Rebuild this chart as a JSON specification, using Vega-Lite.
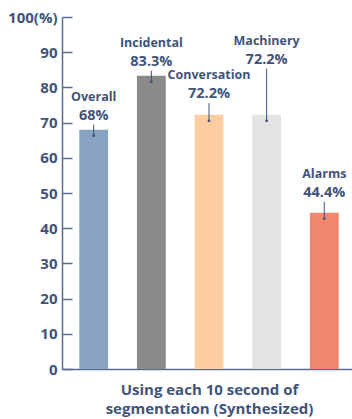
{
  "$schema": "https://vega.github.io/schema/vega-lite/v6.json",
  "width": 290,
  "height": 352,
  "autosize": "none",
  "padding": {"left": 62, "top": 17, "right": 0, "bottom": 50},
  "background": "white",
  "config": {
    "view": {"stroke": null},
    "font": "Open Sans",
    "axisY": {
      "tickCount": 12,
      "labelExpr": "datum.value == 100 ? '100(%)' : datum.label",
      "labelOverlap": false,
      "tickSize": -10,
      "labelPadding": 15,
      "domainColor": "#5a6d8f",
      "tickColor": "#5a6d8f",
      "domainWidth": 1.5,
      "tickWidth": 1.5,
      "labelColor": "#3f5478",
      "labelFontSize": 15,
      "labelFontWeight": "bold",
      "grid": false,
      "title": null
    }
  },
  "data": {
    "values": [
      {"category": "Overall", "value": 68, "pct": "68%", "labelAt": 72},
      {"category": "Incidental", "value": 83.3, "pct": "83.3%", "labelAt": 87.3},
      {"category": "Conversation", "value": 72.2, "pct": "72.2%", "labelAt": 78.1},
      {"category": "Machinery", "value": 72.2, "pct": "72.2%", "labelAt": 87.9},
      {"category": "Alarms", "value": 44.4, "pct": "44.4%", "labelAt": 50.1}
    ]
  },
  "encoding": {
    "x": {
      "field": "category",
      "type": "nominal",
      "sort": null,
      "scale": {"range": [0, 294], "paddingInner": 0.5, "paddingOuter": 0.3},
      "axis": {
        "labels": false,
        "ticks": false,
        "domainColor": "#5a6d8f",
        "domainWidth": 1.5,
        "title": ["Using each 10 second of", "segmentation (Synthesized)"],
        "titleFontSize": 15,
        "titleFontWeight": "bold",
        "titleColor": "#3f5478",
        "titleLineHeight": 19,
        "titlePadding": 13
      }
    }
  },
  "layer": [
    {
      "mark": {"type": "bar"},
      "encoding": {
        "y": {
          "field": "value",
          "type": "quantitative",
          "scale": {"domain": [0, 100], "nice": false},
          "axis": {"values": [0, 10, 20, 30, 40, 50, 60, 70, 80, 90, 100], "tickCount": 12, "title": null}
        },
        "color": {
          "field": "category",
          "type": "nominal",
          "scale": {
            "domain": ["Overall", "Incidental", "Conversation", "Machinery", "Alarms"],
            "range": ["#87a3c0", "#8a8a8a", "#fbcda0", "#e3e3e3", "#f0866e"]
          },
          "legend": null
        }
      }
    },
    {
      "mark": {"type": "rule", "yOffset": 9, "y2Offset": 6, "color": "#3f5478", "strokeWidth": 1},
      "encoding": {
        "y": {"field": "labelAt", "type": "quantitative"},
        "y2": {"field": "value"}
      }
    },
    {
      "mark": {"type": "circle", "size": 8, "yOffset": 6, "color": "#3f5478", "opacity": 1},
      "encoding": {
        "y": {"field": "value", "type": "quantitative"}
      }
    },
    {
      "mark": {"type": "text", "dy": -19, "fontSize": 12.5, "fontWeight": "bold", "color": "#3f5478", "baseline": "middle"},
      "encoding": {
        "y": {"field": "labelAt", "type": "quantitative"},
        "text": {"field": "category"}
      }
    },
    {
      "mark": {"type": "text", "fontSize": 14.5, "fontWeight": "bold", "color": "#3f5478", "baseline": "middle"},
      "encoding": {
        "y": {"field": "labelAt", "type": "quantitative"},
        "text": {"field": "pct"}
      }
    }
  ]
}
